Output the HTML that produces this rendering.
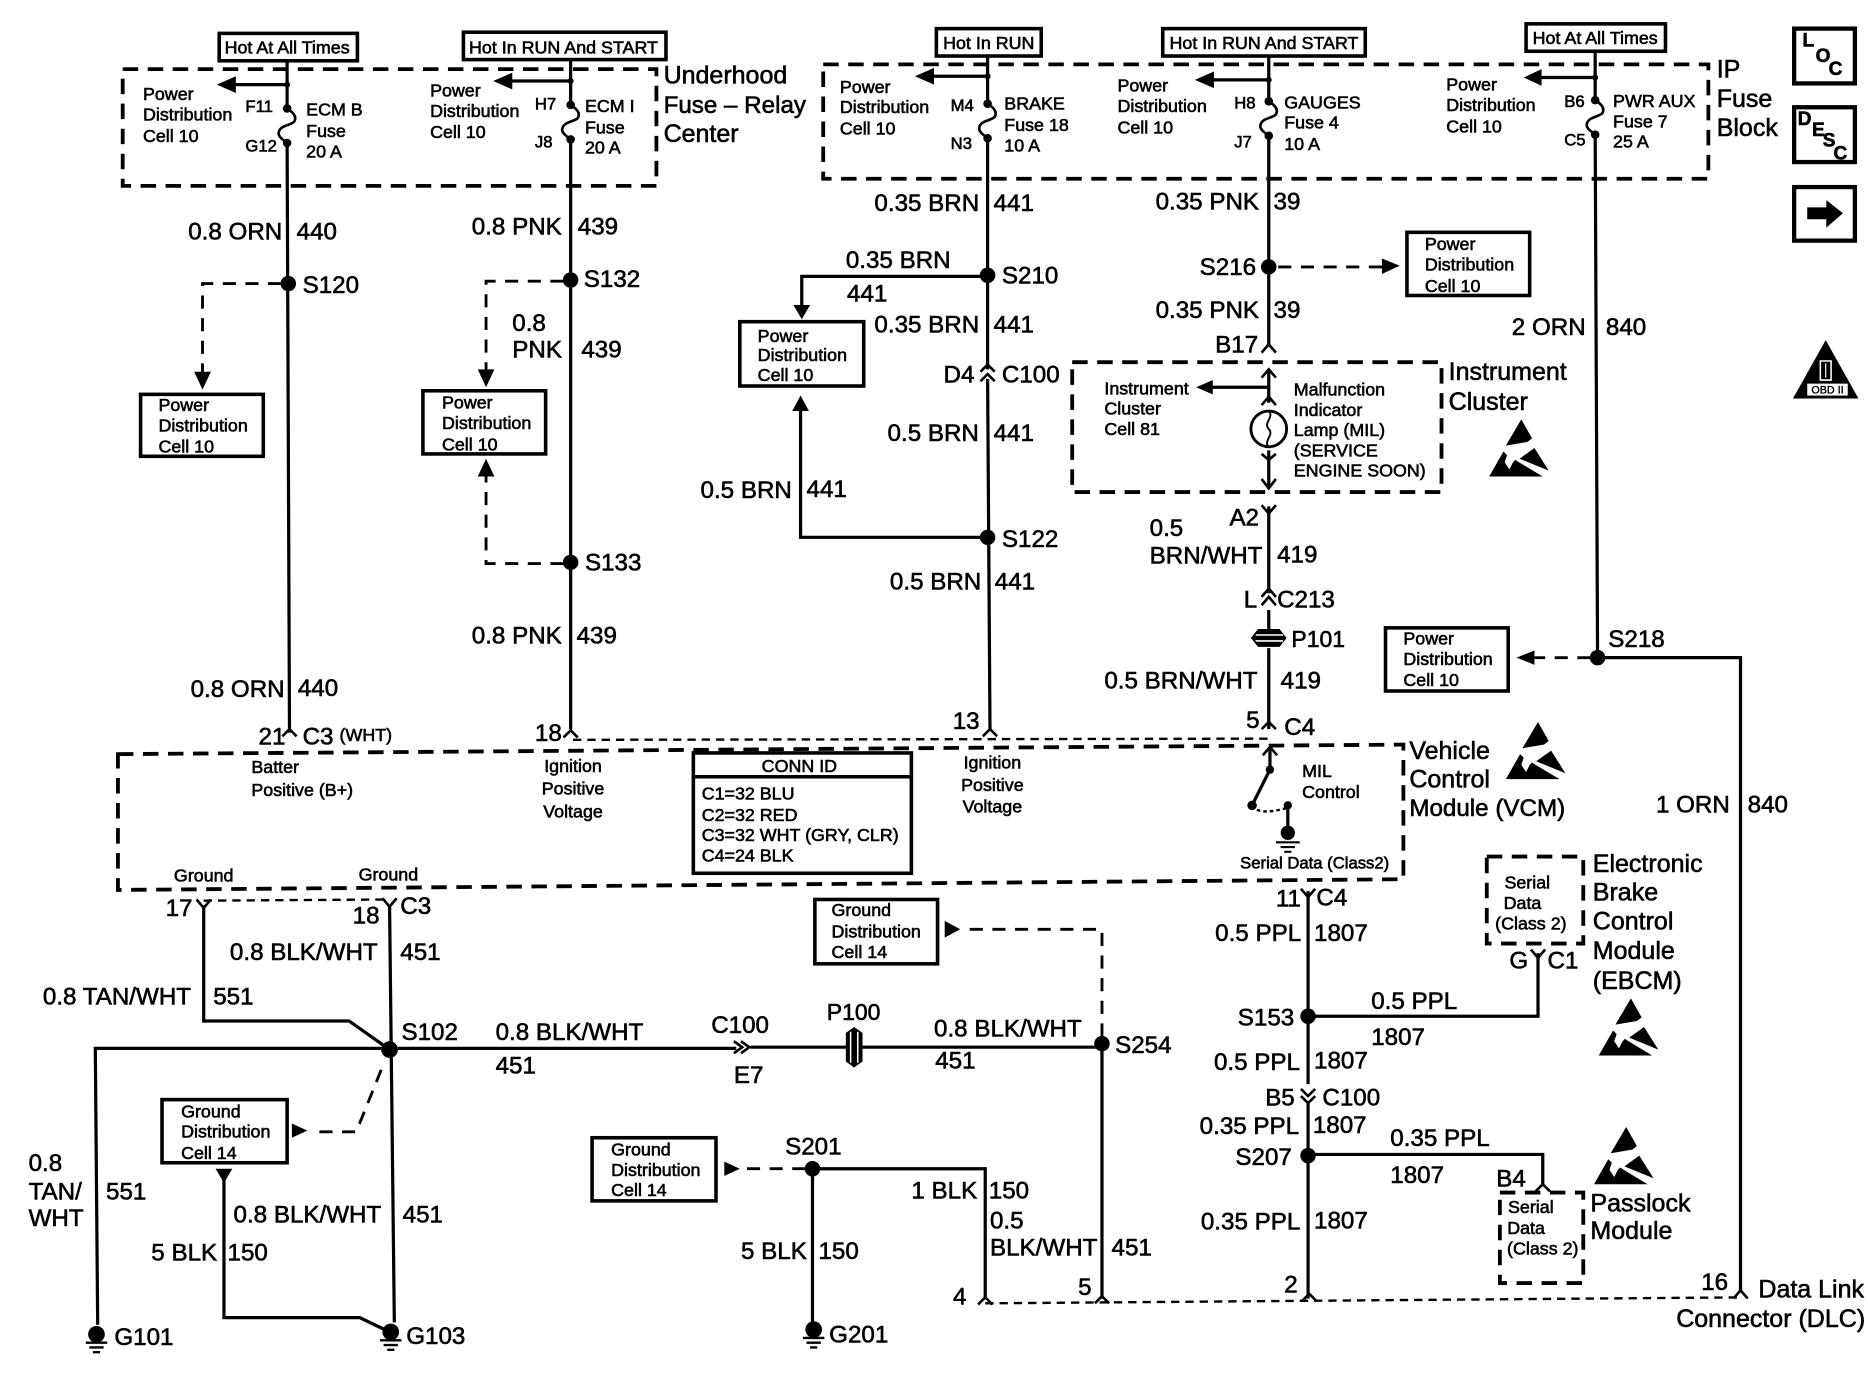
<!DOCTYPE html>
<html><head><meta charset="utf-8"><style>
html,body{margin:0;padding:0;background:#fff;width:1868px;height:1392px;overflow:hidden}
svg{display:block}
text{font-family:"Liberation Sans",sans-serif;fill:#000;stroke:#000;stroke-width:.5}
.b{font-size:20.3px}.g{font-size:21px}.m{font-size:18px}.s{font-size:15px}.t{font-size:14px}
.w{fill:none;stroke:#000;stroke-width:2.7}
.d{fill:none;stroke:#000;stroke-width:2.4;stroke-dasharray:11 8}
.h{fill:none;stroke:#000;stroke-width:2;stroke-dasharray:7 5}
.D{fill:none;stroke:#000;stroke-width:3.2;stroke-dasharray:13 8}
.n{fill:none;stroke:#000;stroke-width:2.2}
.x{fill:none;stroke:#000;stroke-width:3}
.e{text-anchor:end}.c{text-anchor:middle}
.k{font-size:16px;font-weight:bold}
.p{font-size:19.3px}
</style></head><body>
<svg width="1868" height="1392" viewBox="0 0 1568 1168.4" xmlns="http://www.w3.org/2000/svg">
<defs>
<g id="esd"><path d="M29 0L38 16L34 19L16 22Z"/><path d="M2 48L14 27L17 30L15 36L19 42L22 36L24 34L27 36L47 48Z"/><path d="M40 24L52 43L27.500 33Z"/></g>
<g id="gnd"><circle cx="0" cy="0" r="7"/><path d="M-9 7H9M-6 11H6M-3 15H3" stroke="#000" stroke-width="2" fill="none"/></g>
<g id="fuse"><path d="M0 0C3 2 9 6 6 11C4 14 -6 14 -7 20C-8 24 -2 27 0 29" fill="none" stroke="#000" stroke-width="2.2"/><circle cx="0" cy="0" r="3.600"/><circle cx="0" cy="29" r="3.600"/></g>
</defs>
<rect width="1568" height="1168.4" fill="#fff"/>

<!-- dashed enclosures -->
<rect class="D" x="103" y="58" width="448" height="98"/>
<rect class="D" x="691" y="54" width="743" height="96"/>
<rect class="D" x="900" y="304" width="310" height="109"/>
<path class="D" d="M99 633L1178 625V738L99 747Z"/>
<path class="h" d="M481 621L1065 620M171 756L327 755M827 1094L1461 1089"/>

<!-- hot boxes -->
<rect class="x" x="184" y="28" width="116" height="23"/><rect class="x" x="389" y="27" width="170" height="23"/><rect class="x" x="786" y="24" width="88" height="23"/><rect class="x" x="976" y="24" width="170" height="23"/><rect class="x" x="1281" y="20" width="117" height="23"/>
<text class="s c" x="241" y="45">Hot At All Times</text>
<text class="s c" x="473" y="45">Hot In RUN And START</text>
<text class="s c" x="830" y="41">Hot In RUN</text>
<text class="s c" x="1061" y="41">Hot In RUN And START</text>
<text class="s c" x="1339" y="37">Hot At All Times</text>

<!-- main verticals -->
<path class="w" d="M241 51V91M241 120L243 615"/>
<path class="w" d="M479 50V88M479 117V612"/>
<path class="w" d="M829 47V87M829 116V310M829 318L831 612"/>
<path class="w" d="M1065 47V85M1065 114V291"/>
<path class="w" d="M1339 43V84M1339 113L1341 552H1461V1085"/>
<path class="w" d="M1065 425V498M1065 512V528M1065 544V612"/>

<!-- fuse internals -->
<use href="#fuse" x="241" y="91"/><use href="#fuse" x="479" y="88"/><use href="#fuse" x="829" y="87"/><use href="#fuse" x="1065" y="85"/><use href="#fuse" x="1339" y="84"/>

<!-- fuse feed arrows -->
<path class="w" d="M241 71H196M479 68H425M829 64H778M1065 67H1014M1339 65H1288"/>
<path d="M182 71L198 64V78ZM414 68L430 61V75ZM768 64L784 57V71ZM1003 67L1019 60V74ZM1279 65L1294 58V72Z"/>
<circle cx="241" cy="71" r="2.500"/><circle cx="479" cy="68" r="2.500"/><circle cx="829" cy="64" r="2.500"/><circle cx="1065" cy="67" r="2.500"/><circle cx="1339" cy="65" r="2.500"/>

<!-- fuse block text -->
<text class="s" x="120" y="84">Power</text><text class="s" x="120" y="101">Distribution</text><text class="s" x="120" y="119">Cell 10</text>
<text class="t" x="206" y="94">F11</text><text class="t" x="206" y="127">G12</text>
<text class="s" x="257" y="97">ECM B</text><text class="s" x="257" y="115">Fuse</text><text class="s" x="257" y="132">20 A</text>
<text class="s" x="361" y="81">Power</text><text class="s" x="361" y="98">Distribution</text><text class="s" x="361" y="116">Cell 10</text>
<text class="t" x="449" y="92">H7</text><text class="t" x="449" y="124">J8</text>
<text class="s" x="491" y="94">ECM I</text><text class="s" x="491" y="112">Fuse</text><text class="s" x="491" y="129">20 A</text>
<text class="s" x="705" y="78">Power</text><text class="s" x="705" y="95">Distribution</text><text class="s" x="705" y="113">Cell 10</text>
<text class="t" x="798" y="93">M4</text><text class="t" x="798" y="125">N3</text>
<text class="s" x="843" y="92">BRAKE</text><text class="s" x="843" y="110">Fuse 18</text><text class="s" x="843" y="127">10 A</text>
<text class="s" x="938" y="77">Power</text><text class="s" x="938" y="94">Distribution</text><text class="s" x="938" y="112">Cell 10</text>
<text class="t" x="1036" y="91">H8</text><text class="t" x="1036" y="124">J7</text>
<text class="s" x="1078" y="91">GAUGES</text><text class="s" x="1078" y="108">Fuse 4</text><text class="s" x="1078" y="126">10 A</text>
<text class="s" x="1214" y="76">Power</text><text class="s" x="1214" y="93">Distribution</text><text class="s" x="1214" y="111">Cell 10</text>
<text class="t" x="1313" y="90">B6</text><text class="t" x="1313" y="122">C5</text>
<text class="s" x="1354" y="90">PWR AUX</text><text class="s" x="1354" y="107">Fuse 7</text><text class="s" x="1354" y="124">25 A</text>

<!-- module names -->
<text class="g" x="557" y="70">Underhood</text><text class="b" x="557" y="95">Fuse – Relay</text><text class="g" x="557" y="119">Center</text>
<text class="g" x="1441" y="65">IP</text><text class="g" x="1441" y="90">Fuse</text><text class="g" x="1441" y="114">Block</text>
<text class="g" x="1216" y="319">Instrument</text><text class="g" x="1216" y="344">Cluster</text>
<text class="g" x="1183" y="637">Vehicle</text><text class="g" x="1183" y="661">Control</text><text class="b" x="1183" y="685">Module (VCM)</text>
<text class="g" x="1337" y="732">Electronic</text><text class="g" x="1337" y="756">Brake</text><text class="g" x="1337" y="780">Control</text><text class="g" x="1337" y="805">Module</text><text class="g" x="1337" y="830">(EBCM)</text>
<text class="g" x="1335" y="1017">Passlock</text><text class="g" x="1335" y="1040">Module</text>
<text class="g" x="1476" y="1089">Data Link</text><text class="g" x="1407" y="1114">Connector (DLC)</text>

<!-- ESD -->
<use href="#esd" x="1248" y="352"/><use href="#esd" x="1262" y="606"/><use href="#esd" x="1340" y="838"/><use href="#esd" x="1336" y="946"/>

<!-- side buttons -->
<rect class="x" x="1506" y="24" width="51" height="46" style="stroke-width:3.6"/>
<text class="k" x="1513" y="39">L</text><text class="k" x="1524" y="52">O</text><text class="k" x="1535" y="63">C</text>
<rect class="x" x="1506" y="90" width="51" height="46" style="stroke-width:3.6"/>
<text class="k" x="1509" y="105">D</text><text class="k" x="1521" y="114">E</text><text class="k" x="1530" y="123">S</text><text class="k" x="1539" y="134">C</text>
<rect class="x" x="1506" y="157" width="51" height="45" style="stroke-width:3.6"/>
<path d="M1517 174H1533V168L1547 179L1533 191V184H1517Z"/>
<path d="M1532.500 285.500L1505 334.500H1560Z"/>
<path d="M1528 303H1537V319H1528Z" fill="none" stroke="#fff" stroke-width="1.300"/><path d="M1532.500 305V317" stroke="#fff" stroke-width="1"/>
<rect x="1517" y="322" width="34" height="10" fill="#fff"/>
<text x="1534" y="330.500" class="c" style="font-size:9px;stroke-width:.3">OBD II</text>

<!-- S120 -->
<circle cx="242" cy="238" r="6.500"/>
<path class="d" d="M236 238H170V316"/><path d="M163 312H177L170 327Z"/>
<rect class="x" x="118" y="331" width="103" height="52"/>
<text class="s" x="133" y="345">Power</text><text class="s" x="133" y="362">Distribution</text><text class="s" x="133" y="380">Cell 10</text>
<text class="b" x="158" y="201">0.8 ORN</text><text class="b" x="249" y="201">440</text>
<text class="b" x="254" y="246">S120</text>
<text class="b" x="160" y="585">0.8 ORN</text><text class="b" x="250" y="584">440</text>

<!-- S132 / S133 -->
<circle cx="479" cy="235" r="6.500"/><circle cx="479" cy="472" r="6.500"/>
<path class="d" d="M473 236H408V312"/><path d="M401 310H415L408 325Z"/>
<rect class="x" x="355" y="328" width="103" height="53"/>
<text class="s" x="371" y="343">Power</text><text class="s" x="371" y="360">Distribution</text><text class="s" x="371" y="378">Cell 10</text>
<path class="d" d="M473 473H408V398"/><path d="M401 400H415L408 385Z"/>
<text class="b" x="396" y="197">0.8 PNK</text><text class="b" x="485" y="197">439</text>
<text class="b" x="490" y="241">S132</text>
<text class="b" x="430" y="278">0.8</text><text class="b" x="430" y="300">PNK</text><text class="b" x="488" y="300">439</text>
<text class="b" x="491" y="479">S133</text>
<text class="b" x="396" y="540">0.8 PNK</text><text class="b" x="484" y="540">439</text>

<!-- 441 -->
<circle cx="829" cy="231" r="6.500"/><circle cx="829" cy="451" r="6.500"/>
<path class="w" d="M823 232H673V260M825 451H672V345"/>
<path d="M666 256H680L673 268ZM665 345H679L672 332Z"/>
<rect class="x" x="621" y="270" width="104" height="54"/>
<text class="s" x="636" y="287">Power</text><text class="s" x="636" y="303">Distribution</text><text class="s" x="636" y="320">Cell 10</text>
<text class="b" x="734" y="177">0.35 BRN</text><text class="b" x="834" y="177">441</text>
<text class="b" x="710" y="225">0.35 BRN</text><text class="b" x="711" y="253">441</text>
<text class="b" x="841" y="238">S210</text>
<text class="b" x="734" y="279">0.35 BRN</text><text class="b" x="834" y="279">441</text>
<text class="b" x="792" y="321">D4</text><text class="b" x="841" y="321">C100</text>
<path class="n" d="M823 312L829 306L835 312M823 320L829 314L835 320"/>
<text class="b" x="745" y="370">0.5 BRN</text><text class="b" x="834" y="370">441</text>
<text class="b" x="588" y="418">0.5 BRN</text><text class="b" x="677" y="417">441</text>
<text class="b" x="841" y="459">S122</text>
<text class="b" x="747" y="495">0.5 BRN</text><text class="b" x="835" y="495">441</text>
<text class="b c" x="811" y="612">13</text>

<!-- 39 -->
<circle cx="1065" cy="224" r="6.500"/>
<path class="d" d="M1073 224H1160"/><path d="M1160 217L1175 223L1160 230Z"/>
<rect class="x" x="1181" y="195" width="103" height="53"/>
<text class="s" x="1196" y="210">Power</text><text class="s" x="1196" y="227">Distribution</text><text class="s" x="1196" y="245">Cell 10</text>
<text class="b" x="970" y="176">0.35 PNK</text><text class="b" x="1069" y="176">39</text>
<text class="b" x="1007" y="231">S216</text>
<text class="b" x="970" y="267">0.35 PNK</text><text class="b" x="1069" y="267">39</text>
<text class="b" x="1020" y="296">B17</text>
<path class="n" d="M1059 296L1065 289L1071 296"/>

<!-- Instrument cluster -->
<path class="w" d="M1065 312V338M1065 325H1014M1065 378V408"/>
<path d="M1004 325L1018 319V331Z"/>
<path class="n" d="M1059 317L1065 310L1071 317M1059 340L1065 333L1071 340M1059 381L1065 386L1071 381M1059 402L1065 410L1071 402"/>
<circle cx="1065" cy="360" r="15" fill="none" stroke="#000" stroke-width="2.4"/>
<path d="M1065 345C1070 350 1060 355 1065 360C1070 365 1060 370 1065 375" fill="none" stroke="#000" stroke-width="1.600"/>
<text class="s" x="927" y="331">Instrument</text><text class="s" x="927" y="348">Cluster</text><text class="s" x="927" y="365">Cell 81</text>
<text class="s" x="1086" y="332">Malfunction</text><text class="s" x="1086" y="349">Indicator</text><text class="s" x="1086" y="366">Lamp (MIL)</text><text class="s" x="1086" y="383">(SERVICE</text><text class="s" x="1086" y="400">ENGINE SOON)</text>

<!-- 419 -->
<path class="n" d="M1059 424L1065 431L1071 424M1059 501L1065 494L1071 501M1059 508L1065 501L1071 508M1059 612L1065 606L1071 612"/>
<path d="M1050 535.500L1056 528H1074L1080 535.500L1074 543H1056Z"/>
<path d="M1054 533H1077M1054 538H1077" stroke="#fff" stroke-width="1.300"/>
<text class="b" x="1032" y="441">A2</text>
<text class="b" x="965" y="450">0.5</text><text class="b" x="965" y="473">BRN/WHT</text><text class="b" x="1072" y="472">419</text>
<text class="b" x="1044" y="510">L</text><text class="b" x="1072" y="510">C213</text>
<text class="p" x="1084" y="543">P101</text>
<text class="b" x="927" y="578">0.5 BRN/WHT</text><text class="b" x="1075" y="578">419</text>
<text class="b" x="1046" y="611">5</text><text class="b" x="1078" y="617">C4</text>

<!-- S218 -->
<circle cx="1341" cy="552" r="6.500"/>
<path class="d" d="M1335 552H1288"/><path d="M1273 552L1288 546V558Z"/>
<rect class="x" x="1163" y="527" width="103" height="53"/>
<text class="s" x="1178" y="541">Power</text><text class="s" x="1178" y="558">Distribution</text><text class="s" x="1178" y="576">Cell 10</text>
<text class="b" x="1269" y="281">2 ORN</text><text class="b" x="1348" y="281">840</text>
<text class="b" x="1350" y="543">S218</text>
<text class="b" x="1390" y="682">1 ORN</text><text class="b" x="1467" y="682">840</text>

<!-- VCM row -->
<text class="b" x="217" y="625">21</text><text class="b" x="254" y="625">C3</text><text class="s" x="285" y="622">(WHT)</text>
<path class="n" d="M237 618L243 612L249 618M473 619L479 613L485 619M825 618L831 612L837 618"/>
<text class="b" x="449" y="622">18</text>
<text class="s" x="211" y="649">Batter</text><text class="s" x="211" y="668">Positive (B+)</text>
<text class="s c" x="481" y="648">Ignition</text><text class="s c" x="481" y="667">Positive</text><text class="s c" x="481" y="686">Voltage</text>
<text class="s c" x="833" y="645">Ignition</text><text class="s c" x="833" y="664">Positive</text><text class="s c" x="833" y="682">Voltage</text>
<rect class="x" x="582" y="632" width="183" height="101"/><path class="x" d="M582 652H765"/>
<text class="s c" x="671" y="648">CONN ID</text>
<text class="s" x="589" y="671">C1=32 BLU</text><text class="s" x="589" y="689">C2=32 RED</text><text class="s" x="589" y="706">C3=32 WHT (GRY, CLR)</text><text class="s" x="589" y="723">C4=24 BLK</text>

<!-- MIL control -->
<path class="w" d="M1066 628V646L1051 676M1081 676V698"/>
<circle cx="1066" cy="646" r="3.500"/><circle cx="1051" cy="676" r="4"/><circle cx="1081" cy="676" r="3.500"/>
<path class="n" d="M1060 634L1066 627L1072 634"/>
<path d="M1051 676C1056 684 1070 681 1081 678" fill="none" stroke="#000" stroke-width="2" stroke-dasharray="3 2.500"/>
<circle cx="1081" cy="699" r="6"/><path d="M1071 707H1091M1075 711H1087M1078 715H1084" stroke="#000" stroke-width="1.800"/>
<text class="s" x="1093" y="652">MIL</text><text class="s" x="1093" y="670">Control</text>
<text class="t" x="1041" y="729">Serial Data (Class2)</text>

<!-- Ground row -->
<text class="s" x="146" y="740">Ground</text><text class="s" x="301" y="739">Ground</text>
<text class="b" x="139" y="769">17</text><text class="b" x="296" y="775">18</text><text class="b" x="336" y="767">C3</text>
<path class="n" d="M165 755L171 762L177 755M321 754L327 761L333 754"/>
<path class="w" d="M171 760V857H293L327 881"/>
<path class="w" d="M327 760L331 1110"/>
<path class="w" d="M327 880H80L82 1112"/>
<circle cx="327" cy="881" r="7"/>
<text class="b" x="193" y="806">0.8 BLK/WHT</text><text class="b" x="336" y="806">451</text>
<text class="b" x="36" y="843">0.8 TAN/WHT</text><text class="b" x="179" y="843">551</text>
<text class="b" x="337" y="873">S102</text>
<path class="w" d="M327 880H618M630 879H925"/>
<path class="n" d="M616 874L623 879L616 884M622 874L629 879L622 884"/>
<path d="M710 867L717 862L724 867V891L717 896L710 891Z"/>
<path d="M714 866V892M720 866V892" stroke="#fff" stroke-width="1.300"/>
<text class="b" x="416" y="873">0.8 BLK/WHT</text><text class="b" x="416" y="901">451</text>
<text class="b" x="597" y="867">C100</text><text class="b" x="616" y="909">E7</text>
<text class="p" x="694" y="856">P100</text>
<text class="b" x="784" y="870">0.8 BLK/WHT</text><text class="b" x="785" y="897">451</text>

<!-- Ground dist S102 -->
<path class="d" d="M320 898L299 950H260"/><path d="M245 943L258 949L245 955Z"/>
<rect class="x" x="136" y="923" width="105" height="53"/>
<text class="s" x="152" y="938">Ground</text><text class="s" x="152" y="955">Distribution</text><text class="s" x="152" y="973">Cell 14</text>
<path d="M181 981H195L188 993Z"/>
<path class="w" d="M188 990V1106H302L327 1118"/>
<text class="b" x="24" y="983">0.8</text><text class="b" x="24" y="1007">TAN/</text><text class="b" x="24" y="1029">WHT</text><text class="b" x="89" y="1007">551</text>
<text class="b" x="196" y="1026">0.8 BLK/WHT</text><text class="b" x="338" y="1026">451</text>
<text class="b" x="127" y="1058">5 BLK</text><text class="b" x="191" y="1058">150</text>
<use href="#gnd" x="81" y="1120"/><use href="#gnd" x="328" y="1118"/>
<text class="b" x="96" y="1129">G101</text><text class="b" x="341" y="1128">G103</text>

<!-- S254 -->
<circle cx="925" cy="876" r="6.500"/>
<path class="d" d="M925 870V780H808"/><path d="M793 773L806 780L793 787Z"/>
<rect class="x" x="684" y="755" width="103" height="54"/>
<text class="s" x="698" y="769">Ground</text><text class="s" x="698" y="787">Distribution</text><text class="s" x="698" y="804">Cell 14</text>
<text class="b" x="936" y="884">S254</text>
<path class="w" d="M925 880V1090"/>

<!-- S201 -->
<circle cx="682" cy="981" r="6.500"/>
<path class="d" d="M676 981H622"/><path d="M608 975L621 981L608 987Z"/>
<rect class="x" x="497" y="955" width="104" height="53"/>
<text class="s" x="513" y="970">Ground</text><text class="s" x="513" y="987">Distribution</text><text class="s" x="513" y="1004">Cell 14</text>
<path class="w" d="M682 981H827V1090M682 981V1112"/>
<text class="b" x="659" y="969">S201</text>
<text class="b" x="765" y="1006">1 BLK</text><text class="b" x="830" y="1006">150</text>
<text class="b" x="831" y="1031">0.5</text><text class="b" x="831" y="1054">BLK/WHT</text><text class="b" x="933" y="1054">451</text>
<text class="b" x="622" y="1057">5 BLK</text><text class="b" x="687" y="1057">150</text>
<use href="#gnd" x="683" y="1116"/>
<text class="b" x="696" y="1127">G201</text>
<text class="b" x="800" y="1095">4</text><text class="b" x="905" y="1087">5</text><text class="b" x="1078" y="1085">2</text>
<text class="b" x="1428" y="1083">16</text>
<path class="n" d="M821 1095L827 1089L833 1095M919 1094L925 1088L931 1094M1093 1092L1099 1086L1105 1092M1455 1090L1461 1083L1467 1090"/>

<!-- 1807 line -->
<path class="w" d="M1098 748V910M1098 926V1090"/>
<path class="n" d="M1092 746L1098 753L1104 746M1092 914L1098 920L1104 914M1092 920L1098 926L1104 920"/>
<circle cx="1098" cy="853" r="6.500"/><circle cx="1098" cy="970" r="6.500"/>
<path class="w" d="M1098 853H1291V800M1098 969H1295V994"/>
<path class="n" d="M1289 1000L1295 994L1301 1000"/>
<text class="b" x="1071" y="761">11</text><text class="b" x="1105" y="760">C4</text>
<text class="b" x="1020" y="790">0.5 PPL</text><text class="b" x="1103" y="790">1807</text>
<text class="b" x="1039" y="861">S153</text>
<text class="b" x="1151" y="847">0.5 PPL</text><text class="b" x="1151" y="877">1807</text>
<text class="b" x="1019" y="898">0.5 PPL</text><text class="b" x="1103" y="897">1807</text>
<text class="b" x="1062" y="928">B5</text><text class="b" x="1110" y="928">C100</text>
<text class="b" x="1007" y="952">0.35 PPL</text><text class="b" x="1102" y="951">1807</text>
<text class="b" x="1037" y="978">S207</text>
<text class="b" x="1167" y="962">0.35 PPL</text><text class="b" x="1167" y="993">1807</text>
<text class="b" x="1008" y="1032">0.35 PPL</text><text class="b" x="1103" y="1031">1807</text>

<!-- EBCM serial -->
<rect class="D" x="1248" y="719" width="81" height="73"/>
<text class="s c" x="1282" y="746">Serial</text><text class="s c" x="1278" y="763">Data</text><text class="s c" x="1285" y="780">(Class 2)</text>
<text class="b" x="1267" y="813">G</text><text class="b" x="1299" y="813">C1</text>
<path class="n" d="M1285 797L1291 804L1297 797"/>

<!-- Passlock serial -->
<rect class="D" x="1259" y="1001" width="70" height="76"/>
<text class="b" x="1256" y="996">B4</text>
<text class="s c" x="1285" y="1018">Serial</text><text class="s c" x="1281" y="1036">Data</text><text class="s c" x="1295" y="1053">(Class 2)</text>
</svg>
</body></html>
